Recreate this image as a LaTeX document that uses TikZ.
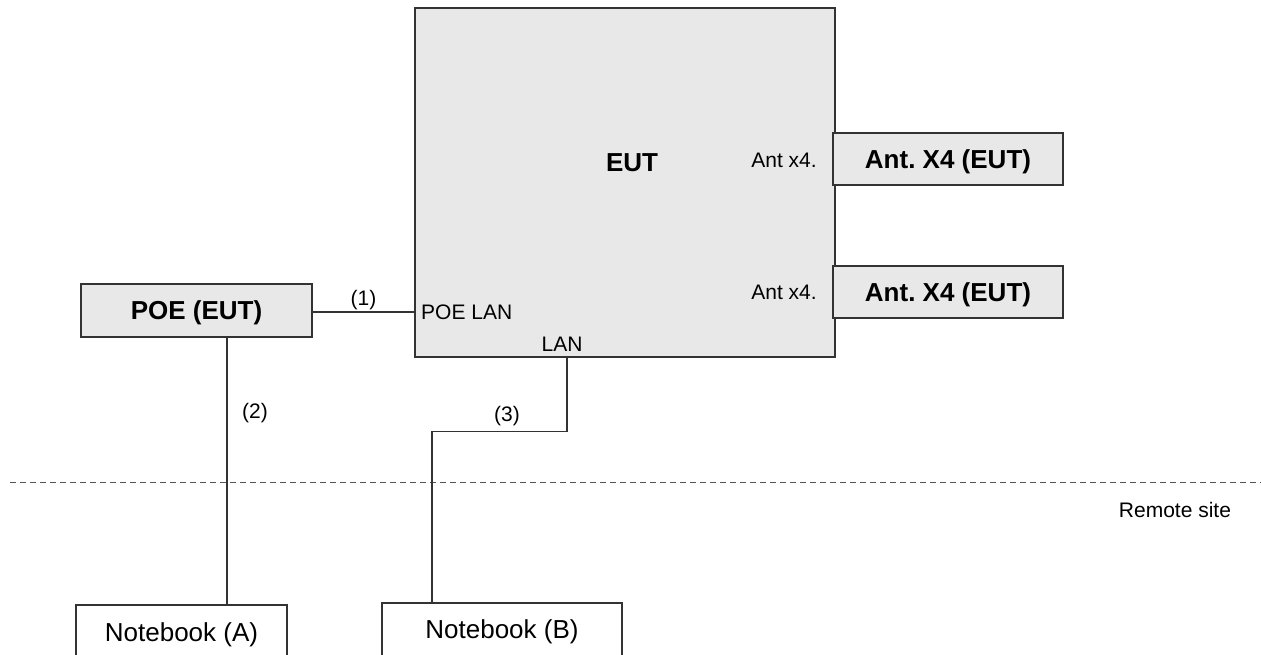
\documentclass[tikz,border=0pt]{standalone}
\usepackage{fontspec}
\setmainfont{Liberation Sans}
\usetikzlibrary{positioning}
\definecolor{boxgray}{HTML}{E8E8E8}
\definecolor{ink}{HTML}{333333}
\definecolor{sepgray}{HTML}{555555}
\frenchspacing

\begin{document}
\begin{tikzpicture}[x=1pt,y=-1pt,
  unit/.style={draw=ink,fill=boxgray,line width=1.4pt,inner sep=0pt,text depth=0pt,font=\fontsize{26}{30}\selectfont\bfseries},
  pcbox/.style={draw=ink,fill=white,line width=1.4pt,inner sep=0pt,text depth=0pt,font=\fontsize{26}{30}\selectfont},
  lbl/.style={text=black,font=\fontsize{21}{25}\selectfont,inner sep=0pt},
  wire/.style={ink,line width=1.4pt}]
\useasboundingbox (0,0) rectangle (1261,655);\clip (0,0) rectangle (1261,655);
% equipment under test
\node[unit,minimum width=420,minimum height=349] (eut) at (625,182.5) {};
\node[font=\fontsize{26}{30}\selectfont\bfseries] (euttxt) at (632,163) {EUT};
\node[unit,minimum width=230,minimum height=52] (ant1) at (948,159) {Ant. X4 (EUT)};
\node[unit,minimum width=230,minimum height=52] (ant2) at (948,292) {Ant. X4 (EUT)};
\node[unit,minimum width=231,minimum height=53] (poe) at (196.5,310.5) {POE (EUT)};
\node[lbl] (ax1) at (784,160) {Ant x4.};\node[lbl] (ax2) at (784,292) {Ant x4.};
\node[lbl,anchor=west] (poelan) at (421,312) {POE LAN};\node[lbl] (lan) at (562,344) {LAN};
% remote site
\node[pcbox,minimum width=211,minimum height=55] (nba) at (181.5,632.5) {Notebook (A)};
\node[pcbox,minimum width=240,minimum height=53] (nbb) at (502,629.5) {Notebook (B)};
\coordinate (sepL) at (10,482);\coordinate (sepR) at (1261,482);
\draw[sepgray,line width=1pt,dash pattern=on 6pt off 4pt] (sepL)--(sepR);
\node[lbl] (remote) at (1175,510) {Remote site};
% cables
\draw[wire] ([yshift=-1.5pt]poe.east) -- ([yshift=-1.5pt]eut.west |- poe.east) node[lbl,midway,above=1pt] (c1) {(1)};
\draw[wire] ([xshift=30.5pt]poe.south) -- ([xshift=45.5pt]nba.north);\node[lbl] (c2) at (255,413) {(2)};
\draw[wire] ([xshift=-58pt]eut.south) -- ++(0,74) -| ([xshift=-70pt]nbb.north);\node[lbl] (c3) at (507,416) {(3)};
\end{tikzpicture}
\end{document}
